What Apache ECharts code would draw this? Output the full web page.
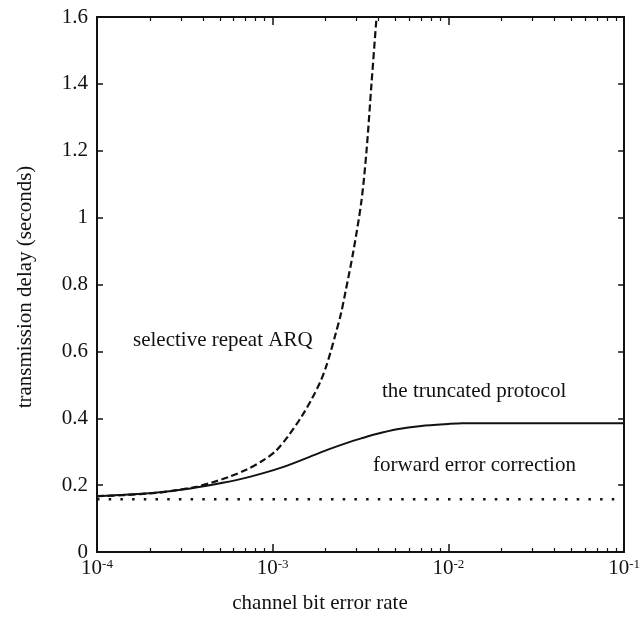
<!DOCTYPE html>
<html>
<head>
<meta charset="utf-8">
<script src="https://cdn.jsdelivr.net/npm/echarts@6.0.0/dist/echarts.min.js"></script>
<style>
  html, body { margin: 0; padding: 0; background: #fff; }
  #chart { width: 643px; height: 624px; }
</style>
</head>
<body>
<div id="chart"></div>
<script>
// ==================
// DATA
// ==================

// selective-repeat ARQ (dashed)
const arqRate = [1e-4, 1.4e-4, 2.2e-4, 2.83e-4, 3.68e-4, 4.52e-4, 5.66e-4, 7.07e-4, 8.7e-4, 1.04e-3, 1.23e-3, 1.46e-3, 1.67e-3, 1.87e-3, 2.0e-3, 2.13e-3, 2.28e-3, 2.44e-3, 2.6e-3, 2.88e-3, 3.2e-3, 3.42e-3, 3.65e-3, 3.9e-3];
const arqDelay = [0.167, 0.170, 0.177, 0.185, 0.195, 0.208, 0.225, 0.246, 0.272, 0.302, 0.348, 0.405, 0.458, 0.51, 0.55, 0.596, 0.652, 0.71, 0.78, 0.90, 1.05, 1.20, 1.40, 1.60];

// the truncated protocol (solid)
const truncRate = [1e-4, 1.4e-4, 2.2e-4, 3.4e-4, 5.2e-4, 7.3e-4, 1.13e-3, 1.76e-3, 2.08e-3, 2.7e-3, 3.2e-3, 3.84e-3, 5.1e-3, 7e-3, 1e-2, 1.2e-2, 3e-2, 1e-1];
const truncDelay = [0.167, 0.171, 0.178, 0.19, 0.207, 0.224, 0.253, 0.292, 0.307, 0.328, 0.34, 0.352, 0.367, 0.377, 0.383, 0.385, 0.385, 0.385];

// forward error correction (dotted)
const fecRate = [1e-4, 1e-1];
const fecDelay = [0.158, 0.158];

// axis ticks
const decadeTicks = [1e-4, 1e-3, 1e-2, 1e-1];
const minorSteps = [2, 3, 4, 5, 6, 7, 8, 9];
const minorLogTicks = [];
decadeTicks.slice(0, -1).forEach(d => minorSteps.forEach(m => minorLogTicks.push(Math.log10(d * m))));

const serif = '"Liberation Serif", "DejaVu Serif", serif';
const ink = '#111';

// ==================
// CHART
// ==================

const chart = echarts.init(document.getElementById('chart'));

const zip = (xs, ys) => xs.map((x, i) => [x, ys[i]]);

const frameLine = { show: true, onZero: false, lineStyle: { color: ink, width: 2 } };
const noLabel = { show: false };

function logAxis(position, showLabel) {
    return {
        type: 'log',
        logBase: 10,
        min: 1e-4,
        max: 1e-1,
        position: position,
        axisLine: frameLine,
        axisTick: { show: true, inside: true, length: 8, lineStyle: { color: ink, width: 1.5 } },
        minorTick: { show: false },
        splitLine: { show: false },
        axisLabel: showLabel ? {
            margin: 6,
            formatter: v => '{b|10}{s|' + Math.round(Math.log10(v)) + '}',
            rich: {
                b: { fontFamily: serif, fontSize: 21, color: ink },
                s: { fontFamily: serif, fontSize: 13, color: ink, verticalAlign: 'top' }
            }
        } : noLabel
    };
}

function minorAxis(position) {
    return {
        type: 'value',
        min: -4,
        max: -1,
        position: position,
        axisLine: { show: false, onZero: false },
        axisTick: { show: true, inside: true, length: 4, customValues: minorLogTicks, lineStyle: { color: ink, width: 1.2 } },
        axisLabel: noLabel,
        splitLine: { show: false }
    };
}

function delayAxis(position, showLabel) {
    return {
        type: 'value',
        min: 0,
        max: 1.6,
        interval: 0.2,
        position: position,
        axisLine: frameLine,
        axisTick: { show: true, inside: true, length: 6, lineStyle: { color: ink, width: 1.5 } },
        splitLine: { show: false },
        axisLabel: showLabel ? { margin: 9, fontFamily: serif, fontSize: 21, color: ink } : noLabel
    };
}

const option = {
    animation: false,
    backgroundColor: '#fff',
    grid: { left: 97, right: 16, top: 17, bottom: 72, containLabel: false },
    xAxis: [logAxis('bottom', true), minorAxis('bottom'), logAxis('top', false), minorAxis('top')],
    yAxis: [delayAxis('left', true), delayAxis('right', false)],
    series: [
        {
            name: 'selective repeat ARQ',
            type: 'line',
            data: zip(arqRate, arqDelay),
            smooth: 0.3,
            symbol: 'none',
            lineStyle: { color: ink, width: 2.2, type: [7, 3.5] }
        },
        {
            name: 'the truncated protocol',
            type: 'line',
            data: zip(truncRate, truncDelay),
            smooth: 0.3,
            symbol: 'none',
            lineStyle: { color: ink, width: 2 }
        },
        {
            name: 'forward error correction',
            type: 'line',
            data: zip(fecRate, fecDelay),
            symbol: 'none',
            lineStyle: { color: ink, width: 2.5, type: [2.5, 9.2] }
        }
    ],
    graphic: [
        { type: 'text', left: 133, top: 330, style: { text: 'selective repeat ARQ', font: '21px ' + serif, fill: ink } },
        { type: 'text', left: 382, top: 381, style: { text: 'the truncated protocol', font: '21px ' + serif, fill: ink } },
        { type: 'text', left: 373, top: 455, style: { text: 'forward error correction', font: '21px ' + serif, fill: ink } },
        { type: 'text', x: 320, y: 603, style: { text: 'channel bit error rate', font: '21px ' + serif, fill: ink, align: 'center', verticalAlign: 'middle' } },
        { type: 'text', x: 25, y: 287, rotation: Math.PI / 2, style: { text: 'transmission delay (seconds)', font: '21px ' + serif, fill: ink, align: 'center', verticalAlign: 'middle' } }
    ]
};

chart.setOption(option);
</script>
</body>
</html>
